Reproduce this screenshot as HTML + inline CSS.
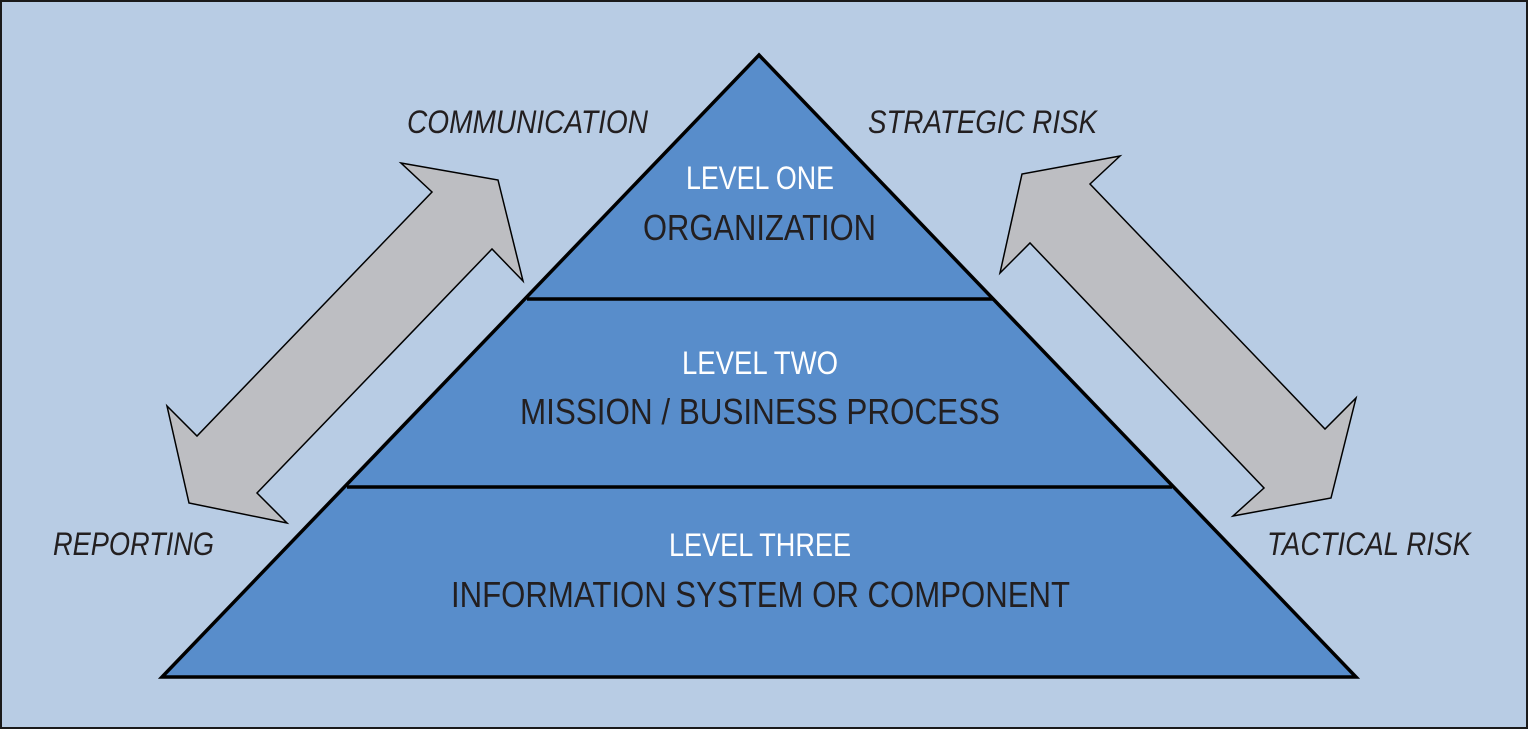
<!DOCTYPE html>
<html><head><meta charset="utf-8">
<style>
html,body{margin:0;padding:0;background:#b8cce4;}
svg{display:block;}
text{font-family:"Liberation Sans",sans-serif;}
</style></head>
<body>
<svg width="1528" height="729" viewBox="0 0 1528 729">
  <rect x="1" y="1" width="1526" height="727" fill="#b8cce4" stroke="#1a1a1a" stroke-width="2"/>
  <polygon fill="#bdbec2" stroke="#000" stroke-width="1.5" stroke-linejoin="miter"
    points="401,163 498,180 523,281 492,249 257,493 287,523 189,503 167,406 197,436 432,192"/>
  <polygon fill="#bdbec2" stroke="#000" stroke-width="1.5"
    points="1120,156 1022,174 1000,273 1030,243 1264,488 1233,516 1331,498 1356,398 1325,429 1090,184"/>
  <polygon fill="#588dcb" stroke="#000" stroke-width="3.5" stroke-linejoin="miter"
    points="759,55 1356,677 162,677"/>
  <line x1="527" y1="299" x2="993" y2="299" stroke="#000" stroke-width="3.5"/>
  <line x1="347" y1="487" x2="1172" y2="487" stroke="#000" stroke-width="3.5"/>

  <g font-style="italic" font-size="32" fill="#231f20">
    <text x="407" y="133" textLength="241" lengthAdjust="spacingAndGlyphs">COMMUNICATION</text>
    <text x="868" y="133" textLength="229" lengthAdjust="spacingAndGlyphs">STRATEGIC RISK</text>
    <text x="53" y="555" textLength="161" lengthAdjust="spacingAndGlyphs">REPORTING</text>
    <text x="1267" y="555" textLength="204" lengthAdjust="spacingAndGlyphs">TACTICAL RISK</text>
  </g>
  <g font-size="32" fill="#ffffff">
    <text x="686" y="189" textLength="148" lengthAdjust="spacingAndGlyphs">LEVEL ONE</text>
    <text x="682" y="374" textLength="156" lengthAdjust="spacingAndGlyphs">LEVEL TWO</text>
    <text x="669" y="556" textLength="182" lengthAdjust="spacingAndGlyphs">LEVEL THREE</text>
  </g>
  <g font-size="36" fill="#231f20">
    <text x="643" y="240" textLength="233" lengthAdjust="spacingAndGlyphs">ORGANIZATION</text>
    <text x="520" y="424" textLength="480" lengthAdjust="spacingAndGlyphs">MISSION / BUSINESS PROCESS</text>
    <text x="451" y="607" textLength="619" lengthAdjust="spacingAndGlyphs">INFORMATION SYSTEM OR COMPONENT</text>
  </g>
</svg>
</body></html>
